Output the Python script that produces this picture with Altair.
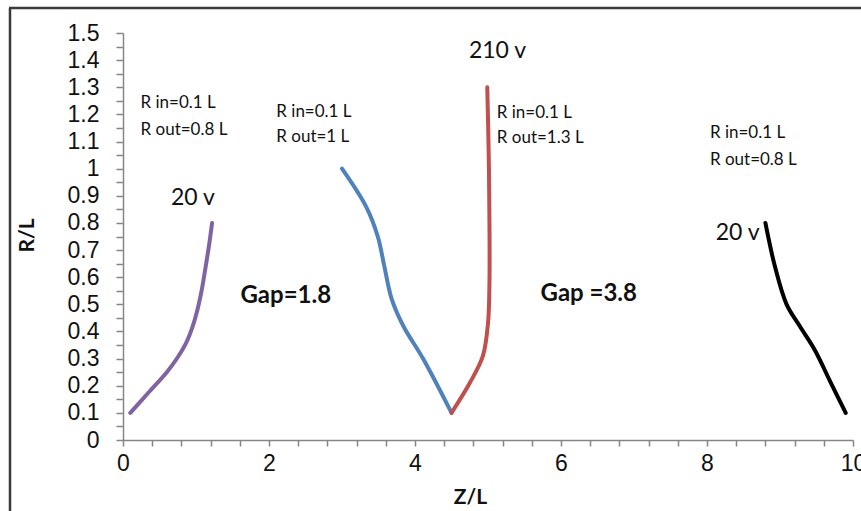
import altair as alt
import pandas as pd

# ---- data ----
series_names = ["20 v (left)", "Rout=1 L", "210 v", "20 v (right)"]
series_colors = ["#8064A2", "#4F81BD", "#C0504D", "#000000"]

purple_z = [0.1, 0.35, 0.6, 0.75, 0.86, 0.95, 1.02, 1.08, 1.13, 1.18, 1.22]
purple_r = [0.1, 0.175, 0.25, 0.305, 0.355, 0.415, 0.48, 0.555, 0.635, 0.72, 0.8]
blue_z = [3.0, 3.33, 3.49, 3.58, 3.68, 3.84, 4.11, 4.5]
blue_r = [1.0, 0.86, 0.75, 0.64, 0.52, 0.42, 0.3, 0.1]
red_z = [4.5, 4.75, 4.93, 5.0, 5.02, 5.02, 5.01, 4.99]
red_r = [0.1, 0.21, 0.31, 0.43, 0.58, 0.8, 1.05, 1.3]
black_z = [8.8, 8.93, 9.09, 9.27, 9.48, 9.68, 9.9]
black_r = [0.8, 0.64, 0.5, 0.42, 0.33, 0.22, 0.1]

note_text = ["R in=0.1 L", "R out=0.8 L", "R in=0.1 L", "R out=1 L",
             "R in=0.1 L", "R out=1.3 L", "R in=0.1 L", "R out=0.8 L"]
note_z = [0.24, 0.24, 2.10, 2.10, 5.12, 5.12, 8.04, 8.04]
note_r = [1.243, 1.144, 1.21, 1.118, 1.207, 1.114, 1.133, 1.033]

volt_text = ["20 v", "210 v", "20 v"]
volt_z = [0.957, 5.13, 8.42]
volt_r = [0.893, 1.432, 0.764]

gap_text = ["Gap=1.8", "Gap =3.8"]
gap_z = [2.23, 6.38]
gap_r = [0.531, 0.537]

x_ticks = [round(i * 0.4, 1) for i in range(26)]
y_ticks = [round(i * 0.05, 2) for i in range(31)]

# ---- tables ----
rows = []
for name, zs, rs in zip(series_names, [purple_z, blue_z, red_z, black_z],
                        [purple_r, blue_r, red_r, black_r]):
    for i, (z, r) in enumerate(zip(zs, rs)):
        rows.append({"series": name, "i": i, "z": z, "r": r})
lines_df = pd.DataFrame(rows)
notes_df = pd.DataFrame({"t": note_text, "z": note_z, "r": note_r})
volt_df = pd.DataFrame({"t": volt_text, "z": volt_z, "r": volt_r})
gap_df = pd.DataFrame({"t": gap_text, "z": gap_z, "r": gap_r})

x_scale = alt.Scale(domain=[0, 10], nice=False, zero=False)
y_scale = alt.Scale(domain=[0, 1.5], nice=False, zero=False)

x_axis = alt.Axis(
    values=x_ticks, tickCount=200,
    labelExpr="(round(datum.value*10) % 20 == 0) ? datum.label : ''",
    format="~g", grid=False, labelOverlap=False,
    domainColor="#868686", tickColor="#868686", domainWidth=1.5, tickWidth=1.5,
    tickSize=6, labelFont="Liberation Sans", labelFontSize=23, labelColor="#111111",
    labelPadding=6, labelFlush=False,
    title="Z/L", titleFont="Lato", titleFontWeight="bold", titleFontSize=21,
    titleColor="#111111", titleX=347, titleY=57, titleBaseline="middle", titleAlign="center",
)
y_axis = alt.Axis(
    values=y_ticks, tickCount=200,
    labelExpr="(round(datum.value*20) % 2 == 0) ? datum.label : ''",
    format="~g", grid=False, labelOverlap=False,
    domainColor="#868686", tickColor="#868686", domainWidth=1.5, tickWidth=1.5,
    tickSize=7, labelFont="Liberation Sans", labelFontSize=23, labelColor="#111111",
    labelPadding=17, labelFlush=False,
    title="R/L", titleFont="Lato", titleFontWeight="bold", titleFontSize=21,
    titleColor="#111111", titleX=-96, titleY=202, titleBaseline="middle",
    titleAlign="center", titleAngle=270,
)

lines = alt.Chart(lines_df).mark_line(
    strokeWidth=4, interpolate="catmull-rom", strokeCap="round"
).encode(
    x=alt.X("z:Q", scale=x_scale, axis=x_axis),
    y=alt.Y("r:Q", scale=y_scale, axis=y_axis),
    color=alt.Color("series:N", scale=alt.Scale(domain=series_names, range=series_colors),
                    legend=None),
    detail="series:N",
    order=alt.Order("i:Q"),
)

notes = alt.Chart(notes_df).mark_text(
    align="left", baseline="middle", font="Lato", fontSize=17, color="#111111"
).encode(x=alt.X("z:Q", scale=x_scale), y=alt.Y("r:Q", scale=y_scale), text="t:N")

volts = alt.Chart(volt_df).mark_text(
    align="center", baseline="middle", font="Lato", fontSize=23, color="#111111"
).encode(x=alt.X("z:Q", scale=x_scale), y=alt.Y("r:Q", scale=y_scale), text="t:N")

gaps = alt.Chart(gap_df).mark_text(
    align="center", baseline="middle", font="Lato", fontSize=24, fontWeight="bold",
    color="#111111"
).encode(x=alt.X("z:Q", scale=x_scale), y=alt.Y("r:Q", scale=y_scale), text="t:N")

# decorative outer frame of the original figure (cropped on right/bottom)
frame_data = alt.Data(values=[{}])
frame_left = alt.Chart(frame_data).mark_rule(color="#3a3a3a", strokeWidth=2.5).encode(
    x=alt.value(-113), y=alt.value(-25), y2=alt.value(480))
frame_top = alt.Chart(frame_data).mark_rule(color="#3a3a3a", strokeWidth=2.5).encode(
    x=alt.value(-114), x2=alt.value(740), y=alt.value(-25))

chart = alt.layer(lines, notes, volts, gaps, frame_left, frame_top).properties(
    width=730, height=407,
    padding={"left": 123, "top": 33, "right": 8, "bottom": 71},
    autosize=alt.AutoSizeParams(type="none"),
    background="white",
).configure_view(stroke="transparent")

chart.save("out.html", embed_options={"renderer": "svg", "actions": False})
